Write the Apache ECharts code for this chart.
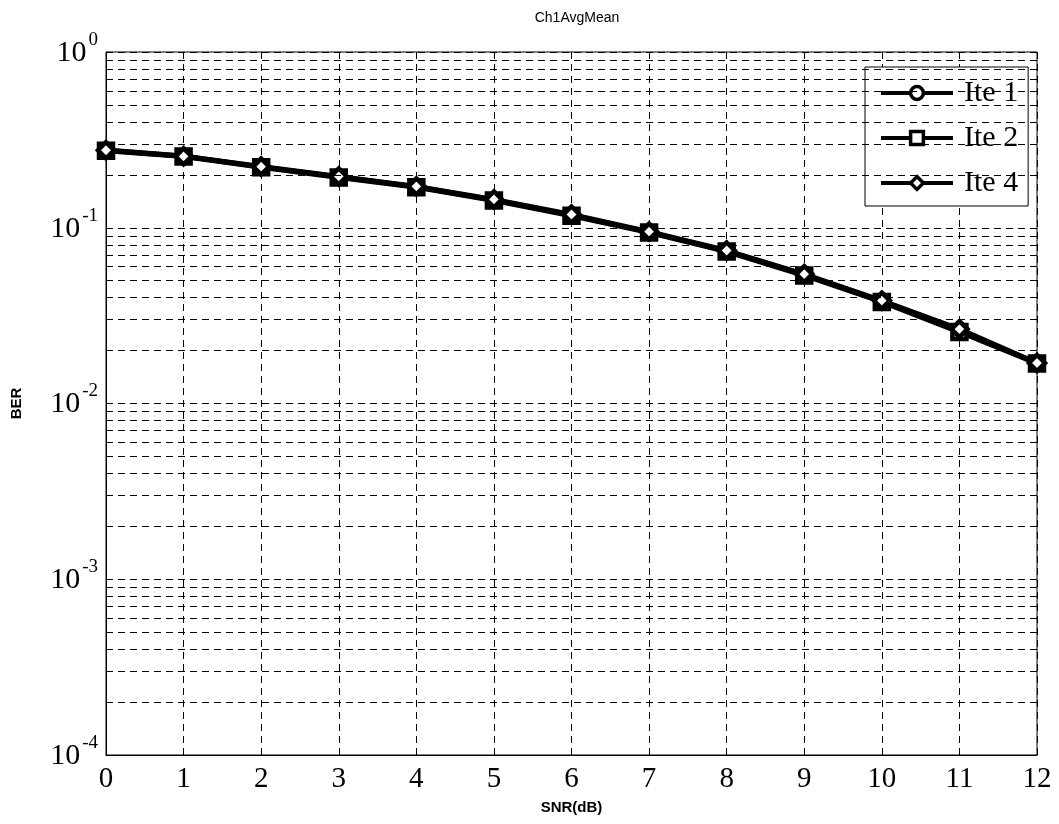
<!DOCTYPE html>
<html><head><meta charset="utf-8">
<script src="https://cdn.jsdelivr.net/npm/echarts@6/dist/echarts.min.js"></script>
<style>html,body{margin:0;padding:0;background:#fff}#c{width:1059px;height:824px}</style>
</head><body><div id="c"></div>
<script>
var snr = [0,1,2,3,4,5,6,7,8,9,10,11,12];
var ite1 = [0.277,0.256,0.222,0.195,0.171,0.144,0.118,0.0945,0.0738,0.0540,0.0382,0.0258,0.0170];
var ite2 = [0.274,0.254,0.221,0.193,0.170,0.143,0.117,0.0940,0.0732,0.0535,0.0378,0.0255,0.0169];
var ite4 = [0.276,0.255,0.223,0.196,0.172,0.145,0.119,0.0950,0.0742,0.0545,0.0385,0.0265,0.0170];
var seriesNames = ['Ite 1','Ite 2','Ite 4'];
var decades = [1e-4,1e-3,1e-2,1e-1];
var minorMult = [2,3,4,5,6,7,8,9];
var minorLines = [];
decades.forEach(function(d){ minorMult.forEach(function(m){ minorLines.push(d*m); }); });

function pairs(arr){ return snr.map(function(x,i){ return [x, arr[i]]; }); }
var chart = echarts.init(document.getElementById('c'));
var serif = 'Liberation Serif';
var sans = 'Liberation Sans';
var dash = [7, 5];
function mk(name, data, symbol, size, extra){
  var s = {
    name: name, type: 'line', data: pairs(data), symbol: symbol, symbolSize: size,
    lineStyle: {color:'#000', width: 5},
    itemStyle: {color:'#fff', borderColor:'#000', borderWidth: 4.5},
    emphasis: {disabled:true}, z: 3
  };
  if (extra) Object.assign(s, extra);
  return s;
}
chart.setOption({
  animation: false,
  backgroundColor: '#fff',
  title: { text: 'Ch1AvgMean', left: 572, top: 6, textAlign: 'center',
    textStyle: { fontFamily: sans, fontSize: 14, fontWeight: 'normal', color: '#000' } },
  grid: { left: 106, right: 22, top: 52, bottom: 69, show: true, borderColor: '#000', borderWidth: 1, backgroundColor: 'transparent' },
  legend: {
    orient: 'vertical', left: 865, top: 67,
    backgroundColor: '#fff', borderColor: '#000', borderWidth: 1,
    padding: [11, 10, 8, 14], itemGap: 15, itemWidth: 72, itemHeight: 16,
    lineStyle: { width: 4, color: '#000' },
    itemStyle: { color: '#fff', borderColor: '#000', borderWidth: 3.5 },
    textStyle: { fontFamily: serif, fontSize: 30, color: '#000', padding: [0, 0, 0, 6] },
    data: seriesNames
  },
  xAxis: {
    type: 'value', min: 0, max: 12, interval: 1,
    name: 'SNR(dB)', nameLocation: 'middle', nameGap: 45,
    nameTextStyle: { fontFamily: sans, fontSize: 15, fontWeight: 'bold', color: '#000' },
    axisLine: { show: true, lineStyle: { color: '#000' } },
    axisTick: { inside: true, length: 6, lineStyle: { color: '#000' } },
    axisLabel: { fontFamily: serif, fontSize: 29, color: '#000', margin: 10 },
    splitLine: { show: true, lineStyle: { color: '#000', type: dash, width: 1 } }
  },
  yAxis: {
    type: 'log', logBase: 10, min: 1e-4, max: 1, splitNumber: 4,
    name: 'BER', nameLocation: 'middle', nameGap: 82, nameRotate: 90,
    nameTextStyle: { fontFamily: sans, fontSize: 15, fontWeight: 'bold', color: '#000' },
    axisLine: { show: true, lineStyle: { color: '#000' } },
    axisTick: { inside: true, length: 6, lineStyle: { color: '#000' } },
    axisLabel: {
      margin: 8,
      formatter: function(v){ var e = Math.round(Math.log10(v)); return '{b|10}{s|' + e + '}'; },
      rich: {
        b: { fontFamily: serif, fontSize: 30, color: '#000', padding: [2, 0, 0, 0] },
        s: { fontFamily: serif, fontSize: 19, color: '#000', padding: [0, 0, 24, 2] }
      }
    },
    splitLine: { show: true, lineStyle: { color: '#000', type: dash, width: 1 } }
  },
  series: [
    mk('Ite 1', ite1, 'circle', 13, {
      markLine: {
        silent: true, symbol: 'none', label: { show: false }, precision: 8,
        lineStyle: { color: '#000', type: dash, width: 1 },
        emphasis: { disabled: true },
        data: minorLines.map(function(v){ return { yAxis: v }; })
      }
    }),
    mk('Ite 2', ite2, 'rect', 14),
    mk('Ite 4', ite4, 'diamond', 16)
  ]
});
</script></body></html>
